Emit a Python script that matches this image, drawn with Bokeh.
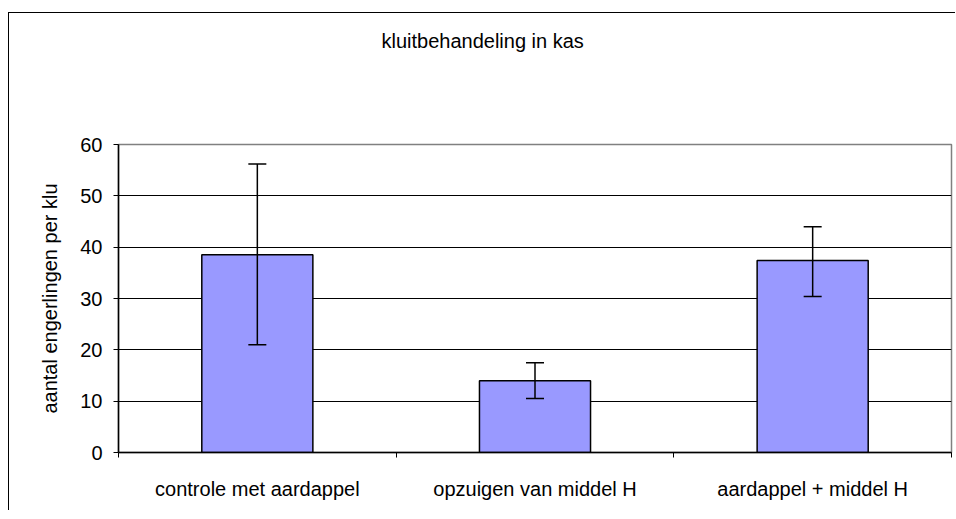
from bokeh.plotting import figure
from bokeh.models import Range1d, FixedTicker, Whisker, TeeHead, ColumnDataSource, Title
from bokeh.embed import file_html
from bokeh.resources import INLINE

title_text = "kluitbehandeling in kas"
y_label = "aantal engerlingen per klu"
categories = ["controle met aardappel", "opzuigen van middel H", "aardappel + middel H"]
means = [38.5, 14.0, 37.4]
err_low = [21.0, 10.5, 30.4]
err_high = [56.2, 17.5, 44.0]
y_ticks = [0, 10, 20, 30, 40, 50, 60]

FONT = "Liberation Sans"
FS = "20px"

x_pos = [i + 0.5 for i in range(len(categories))]
src = ColumnDataSource(dict(x=x_pos, top=means, lower=err_low, upper=err_high))

p = figure(width=947, height=498, output_backend="svg", toolbar_location=None,
           x_range=Range1d(0, len(categories)), y_range=Range1d(y_ticks[0], y_ticks[-1]),
           min_border_left=109, min_border_right=5, min_border_top=131, min_border_bottom=59)
p.styles = {"border-top": "1px solid black", "border-left": "1px solid black",
            "margin-top": "12px", "margin-left": "8px"}

p.title = Title(text=title_text, align="left", standoff=0, offset=263,
                text_font=FONT, text_font_size=FS, text_font_style="normal",
                text_color="black")
# empty spacer between title and plot area
p.add_layout(Title(text=" ", text_font_size="1px", standoff=90), "above")

p.outline_line_color = "#808080"
p.outline_line_width = 1.5
p.background_fill_color = "white"
p.border_fill_color = "white"

p.vbar(x="x", top="top", width=0.4, bottom=0, source=src,
       fill_color="#9999FF", line_color="black", line_width=1.5)

w = Whisker(base="x", lower="lower", upper="upper", source=src,
            line_color="black", line_width=1.5, level="overlay",
            upper_head=TeeHead(size=18, line_color="black", line_width=1.5),
            lower_head=TeeHead(size=18, line_color="black", line_width=1.5))
p.add_layout(w)

# axes
p.xaxis.ticker = FixedTicker(ticks=x_pos, minor_ticks=list(range(len(categories) + 1)))
p.xaxis.major_label_overrides = {x: c for x, c in zip(x_pos, categories)}
p.xaxis.major_tick_line_color = None
p.xaxis.major_tick_out = 0
p.xaxis.major_tick_in = 0
p.xaxis.minor_tick_out = 5
p.xaxis.minor_tick_in = 0
p.xaxis.minor_tick_line_color = "black"
p.xaxis.major_label_standoff = 20
p.xaxis.axis_line_color = "black"
p.xaxis.axis_line_width = 1.5

p.yaxis.ticker = FixedTicker(ticks=y_ticks)
p.yaxis.major_tick_out = 5
p.yaxis.major_tick_in = 0
p.yaxis.minor_tick_line_color = None
p.yaxis.major_label_standoff = 11
p.yaxis.axis_line_color = "black"
p.yaxis.axis_line_width = 1.5
p.yaxis.axis_label = y_label
p.yaxis.axis_label_standoff = 16
p.yaxis.axis_label_text_font_style = "normal"

for ax in (p.xaxis[0], p.yaxis[0]):
    ax.major_label_text_font = FONT
    ax.major_label_text_font_size = FS
    ax.major_label_text_color = "black"
    ax.axis_label_text_font = FONT
    ax.axis_label_text_font_size = FS
    ax.axis_label_text_color = "black"

p.xgrid.grid_line_color = None
p.ygrid.ticker = FixedTicker(ticks=y_ticks)
p.ygrid.grid_line_color = "black"
p.ygrid.grid_line_width = 1

open("out.html", "w").write(file_html(p, INLINE))
